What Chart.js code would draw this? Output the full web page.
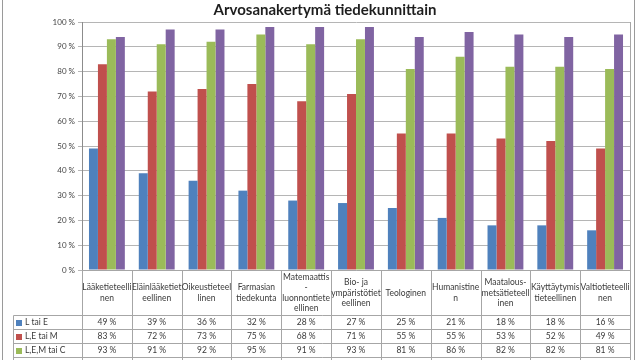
<!DOCTYPE html>
<html>
<head>
<meta charset="utf-8">
<script src="https://cdn.jsdelivr.net/npm/chart.js@4/dist/chart.umd.min.js"></script>
<style>
  html, body { margin: 0; padding: 0; background: #ffffff; }
  #wrap { width: 640px; height: 360px; position: relative; overflow: hidden; }
</style>
</head>
<body>
<div id="wrap"><canvas id="c" width="640" height="360"></canvas></div>
<script>
// ---- data ----
const titleText = "Arvosanakertymä tiedekunnittain";
const categories = [
  ["Lääketieteelli", "nen"],
  ["Eläinlääketiet", "eellinen"],
  ["Oikeustieteel", "linen"],
  ["Farmasian", "tiedekunta"],
  ["Matemaattis", "-", "luonnontiete", "ellinen"],
  ["Bio- ja", "ympäristötiet", "eellinen"],
  ["Teologinen"],
  ["Humanistine", "n"],
  ["Maatalous-", "metsätieteell", "inen"],
  ["Käyttäytymis", "tieteellinen"],
  ["Valtiotieteelli", "nen"]
];
const seriesNames = ["L tai E", "L,E tai M", "L,E,M tai C", "L,E,M,C tai B"];
const lTaiE     = [49, 39, 36, 32, 28, 27, 25, 21, 18, 18, 16];
const leTaiM    = [83, 72, 73, 75, 68, 71, 55, 55, 53, 52, 49];
const lemTaiC   = [93, 91, 92, 95, 91, 93, 81, 86, 82, 82, 81];
const lemcTaiB  = [94, 97, 97, 98, 98, 98, 94, 96, 95, 94, 95];
const yTickValues = [0, 10, 20, 30, 40, 50, 60, 70, 80, 90, 100];

const seriesColors = ["#4F81BD", "#C0504D", "#9BBB59", "#8064A2"];
const seriesData = [lTaiE, leTaiM, lemTaiC, lemcTaiB];

const FONT = "Lato, 'Open Sans', 'Liberation Sans', sans-serif";
const TEXT = "#3a3a3a";
const LINE = "#a6a6a6";

const tablePlugin = {
  id: "dataTable",
  afterDraw(chart) {
    const ctx = chart.ctx;
    const xs = chart.scales.x;
    const area = chart.chartArea;
    const n = categories.length;
    const step = (area.right - area.left) / n;
    const top = Math.round(area.bottom) + 0.5;
    const headerBottom = top + 45;
    const rowH = 14;
    const legendLeft = 13.5;
    const bottom = 360;

    ctx.save();
    ctx.strokeStyle = LINE;
    ctx.lineWidth = 1;

    // plot area right border
    ctx.beginPath();
    ctx.moveTo(Math.round(area.right) + 0.5, area.top);
    ctx.lineTo(Math.round(area.right) + 0.5, top);
    ctx.stroke();

    // outer chart frame
    ctx.strokeStyle = "#9a9a9a";
    ctx.beginPath();
    ctx.moveTo(2.5, 0); ctx.lineTo(2.5, bottom);
    ctx.moveTo(634.5, 0); ctx.lineTo(634.5, bottom);
    ctx.stroke();
    ctx.strokeStyle = LINE;

    // horizontal lines
    ctx.beginPath();
    ctx.moveTo(area.left, top); ctx.lineTo(area.right + 1, top);
    for (let r = 0; r < seriesNames.length; r++) {
      const y = headerBottom + r * rowH;
      ctx.moveTo(legendLeft, y); ctx.lineTo(area.right + 1, y);
    }
    // vertical lines
    for (let i = 0; i <= n; i++) {
      const x = Math.round(area.left + i * step) + 0.5;
      ctx.moveTo(x, top); ctx.lineTo(x, bottom);
    }
    ctx.moveTo(legendLeft, headerBottom); ctx.lineTo(legendLeft, bottom);
    ctx.stroke();

    // category labels
    ctx.fillStyle = TEXT;
    ctx.textAlign = "center";
    ctx.textBaseline = "middle";
    ctx.font = "8.5px " + FONT;
    const lh = 10.5;
    const headerMid = (top + headerBottom) / 2;
    categories.forEach((lines, i) => {
      const cx = xs.getPixelForValue(i);
      const y0 = headerMid - (lines.length - 1) * lh / 2;
      lines.forEach((t, k) => ctx.fillText(t, cx, y0 + k * lh));
    });

    // series rows
    seriesNames.forEach((name, r) => {
      const yMid = headerBottom + r * rowH + rowH / 2;
      ctx.fillStyle = seriesColors[r];
      ctx.fillRect(16, Math.round(yMid - 3), 6, 6);
      ctx.fillStyle = TEXT;
      ctx.textAlign = "left";
      ctx.fillText(name, 25, yMid);
      ctx.textAlign = "center";
      seriesData[r].forEach((v, i) => {
        ctx.fillText(v + " %", xs.getPixelForValue(i), yMid);
      });
    });
    ctx.restore();
  }
};

new Chart(document.getElementById("c"), {
  type: "bar",
  data: {
    labels: categories.map(c => c.join(" ")),
    datasets: seriesNames.map((name, i) => ({
      label: name,
      data: seriesData[i],
      backgroundColor: seriesColors[i],
      borderWidth: 0,
      barPercentage: 1.0,
      categoryPercentage: 0.72
    }))
  },
  options: {
    responsive: false,
    animation: false,
    devicePixelRatio: 1,
    layout: { padding: { left: 20, right: 10, top: 0, bottom: 90 } },
    plugins: {
      legend: { display: false },
      tooltip: { enabled: false },
      title: {
        display: true,
        text: titleText,
        color: "#1e1e1e",
        font: { family: FONT, size: 15, weight: "bold", lineHeight: 1.2 },
        padding: { top: 1, bottom: 3 }
      }
    },
    scales: {
      x: { display: false },
      y: {
        min: 0, max: 100,
        afterFit(scale) { scale.width = 62; },
        afterBuildTicks(scale) { scale.ticks = yTickValues.map(v => ({ value: v })); },
        ticks: {
          color: "#444444",
          font: { family: FONT, size: 8 },
          padding: 3,
          callback: v => v + " %"
        },
        grid: { color: "#b5b5b5", lineWidth: 1, tickLength: 4 },
        border: { color: "#8c8c8c", width: 1 }
      }
    }
  },
  plugins: [tablePlugin]
});
</script>
</body>
</html>
